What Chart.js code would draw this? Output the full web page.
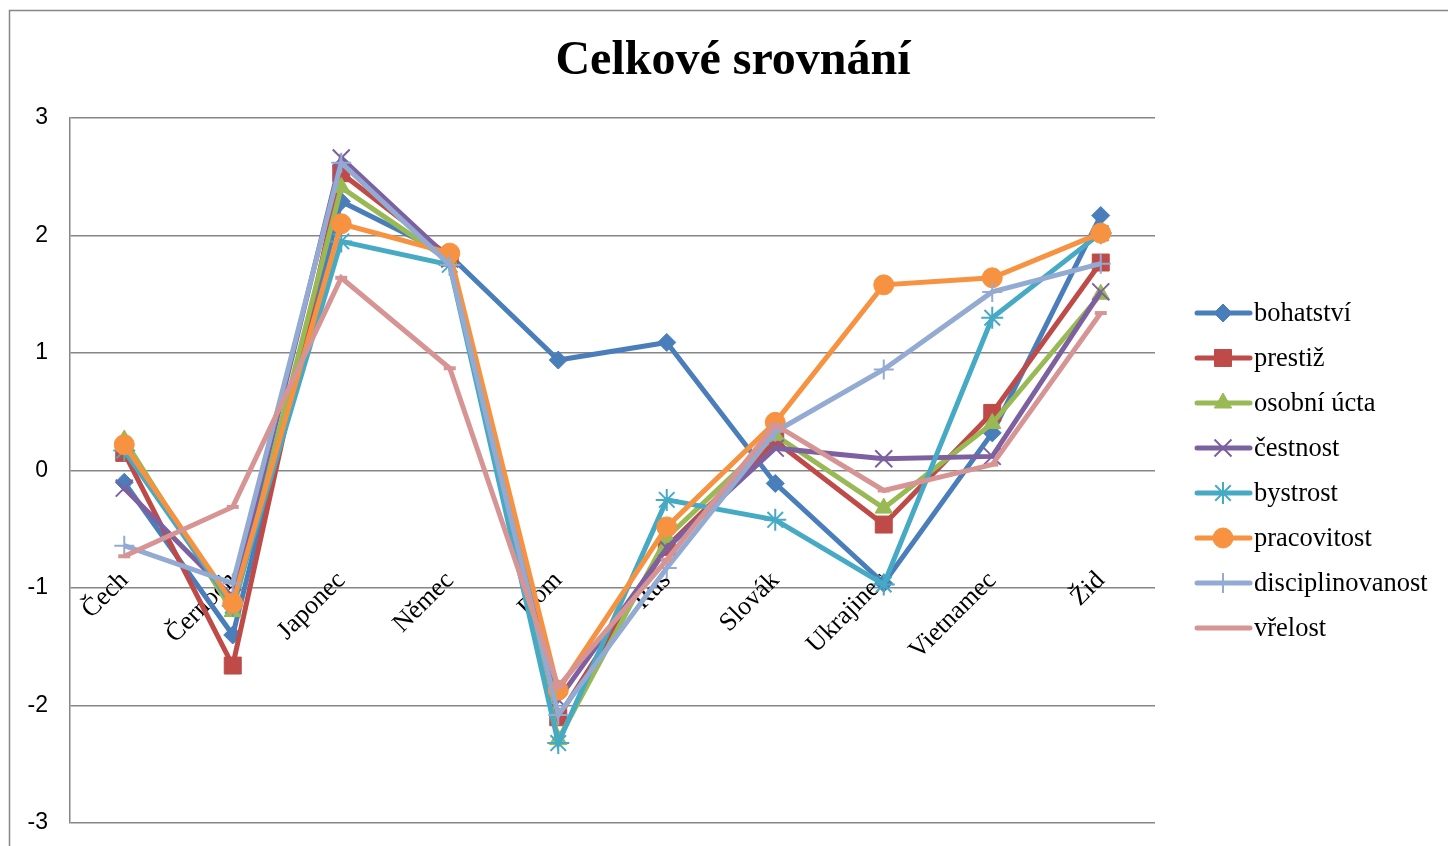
<!DOCTYPE html>
<html>
<head>
<meta charset="utf-8">
<script src="https://cdn.jsdelivr.net/npm/chart.js@4"></script>
<style>
  body { margin: 0; background: #fff; }
</style>
</head>
<body>
<canvas id="chart" width="1448" height="846"></canvas>
<script>
const categories = ['Čech', 'Černoch', 'Japonec', 'Němec', 'Rom', 'Rus', 'Slovák', 'Ukrajinec', 'Vietnamec', 'Žid'];

const bohatstvi = [-0.10, -1.40, 2.29, 1.83, 0.94, 1.09, -0.11, -0.96, 0.32, 2.17];
const prestiz = [0.15, -1.66, 2.53, 1.82, -2.10, -0.65, 0.25, -0.46, 0.49, 1.77];
const osobniUcta = [0.26, -1.20, 2.41, 1.78, -2.29, -0.57, 0.30, -0.32, 0.40, 1.50];
const cestnost = [-0.15, -1.08, 2.66, 1.80, -1.95, -0.66, 0.19, 0.10, 0.12, 1.52];
const bystrost = [0.17, -1.15, 1.95, 1.75, -2.32, -0.25, -0.42, -0.97, 1.30, 2.02];
const pracovitost = [0.22, -1.13, 2.10, 1.85, -1.87, -0.48, 0.41, 1.58, 1.64, 2.02];
const disciplinovanost = [-0.64, -0.96, 2.62, 1.75, -2.08, -0.83, 0.33, 0.86, 1.52, 1.76];
const vrelost = [-0.73, -0.31, 1.64, 0.87, -1.84, -0.76, 0.39, -0.17, 0.05, 1.34];

const yTicks = [-3, -2, -1, 0, 1, 2, 3];

const seriesNames = ['bohatství', 'prestiž', 'osobní úcta', 'čestnost', 'bystrost', 'pracovitost', 'disciplinovanost', 'vřelost'];
const seriesData = [bohatstvi, prestiz, osobniUcta, cestnost, bystrost, pracovitost, disciplinovanost, vrelost];
const colors = ['#4A7EBB', '#BE4B48', '#98B954', '#7D60A0', '#46AAC5', '#F69240', '#93AAD3', '#D69594'];
const markers = ['rectRot', 'rect', 'triangle', 'crossRot', 'star', 'circle', 'cross', 'line'];
const markerSize = [9, 12, 10, 12, 11, 10, 10, 6];
const markerBorder = [1, 1, 1, 2, 2, 1, 2, 4];

const datasets = seriesNames.map((name, i) => ({
    label: name,
    data: seriesData[i],
    borderColor: colors[i],
    backgroundColor: colors[i],
    borderWidth: 5,
    pointStyle: markers[i],
    pointRadius: markerSize[i],
    pointBorderWidth: markerBorder[i],
    pointBackgroundColor: colors[i],
    pointBorderColor: colors[i],
    tension: 0,
    order: seriesNames.length - i
}));

// ramecek kolem grafu + legenda vpravo (cara se znackou jako v Excelu)
const excelLook = {
    id: 'excelLook',
    beforeDraw(chart) {
        const ctx = chart.ctx;
        ctx.save();
        ctx.strokeStyle = '#868686';
        ctx.lineWidth = 1.5;
        ctx.strokeRect(9.5, 10.5, 1460, 900);
        ctx.restore();
    },
    afterDraw(chart) {
        const ctx = chart.ctx;
        ctx.save();
        chart.data.datasets.forEach((ds, i) => {
            const y = 313 + 45 * i;
            ctx.strokeStyle = ds.borderColor;
            ctx.lineWidth = 5;
            ctx.lineCap = 'round';
            ctx.beginPath();
            ctx.moveTo(1197, y);
            ctx.lineTo(1250, y);
            ctx.stroke();
            ctx.lineCap = 'butt';
            ctx.fillStyle = ds.pointBackgroundColor;
            ctx.strokeStyle = ds.pointBorderColor;
            ctx.lineWidth = ds.pointBorderWidth;
            Chart.helpers.drawPoint(ctx, {
                pointStyle: ds.pointStyle,
                radius: ds.pointRadius,
                rotation: 0,
                borderWidth: ds.pointBorderWidth
            }, 1223, y);
            ctx.fillStyle = '#000';
            ctx.font = '26.5px "Liberation Serif", "Times New Roman", serif';
            ctx.textBaseline = 'middle';
            ctx.textAlign = 'left';
            ctx.fillText(ds.label, 1254, y + 1);
        });
        ctx.restore();
    }
};

const ctx = document.getElementById('chart').getContext('2d');
new Chart(ctx, {
    type: 'line',
    data: {
        labels: categories,
        datasets: datasets
    },
    options: {
        responsive: false,
        animation: false,
        layout: {
            padding: { left: 18, right: 0, top: 0, bottom: 23 }
        },
        plugins: {
            legend: { display: false },
            tooltip: { enabled: false },
            title: {
                display: true,
                text: 'Celkové srovnání',
                color: '#000',
                font: { family: '"Liberation Serif", "Times New Roman", serif', size: 48, weight: 'bold', lineHeight: 1.2 },
                padding: { top: 33, bottom: 27.4 }
            }
        },
        scales: {
            x: {
                type: 'category',
                offset: true,
                position: { y: -0.74 },
                grid: { display: false },
                border: { display: false },
                ticks: {
                    color: '#000',
                    autoSkip: false,
                    minRotation: 45,
                    maxRotation: 45,
                    padding: 0,
                    font: { family: '"Liberation Serif", "Times New Roman", serif', size: 26 }
                }
            },
            y: {
                min: -3,
                max: 3,
                afterFit: s => { s.width = 52; },
                afterBuildTicks: s => { s.ticks = yTicks.map(v => ({ value: v })); },
                grid: { color: '#868686', lineWidth: 1.5, drawTicks: true, tickLength: 22, tickColor: 'rgba(0,0,0,0)' },
                border: { display: true, color: '#868686', width: 1.5 },
                ticks: {
                    color: '#000',
                    padding: 0,
                    font: { family: '"Liberation Sans", Arial, sans-serif', size: 23 }
                }
            },
            y2: {
                position: 'right',
                display: true,
                grid: { display: false },
                border: { display: false },
                ticks: { display: false },
                afterFit: s => { s.width = 293; }
            }
        }
    },
    plugins: [excelLook]
});
</script>
</body>
</html>
